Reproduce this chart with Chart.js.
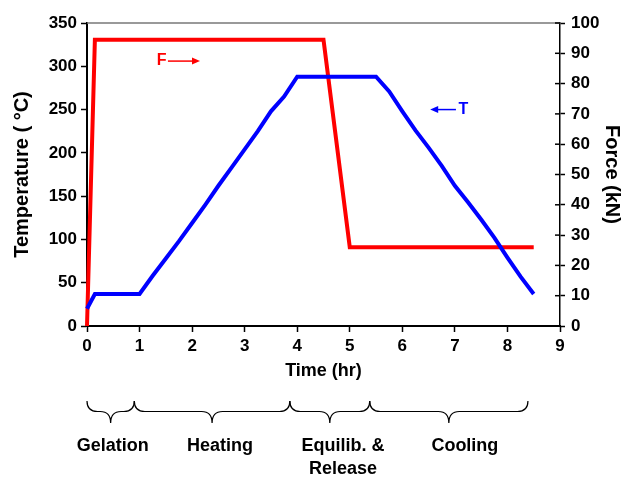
<!DOCTYPE html>
<html>
<head>
<meta charset="utf-8">
<script src="https://cdn.jsdelivr.net/npm/chart.js@4/dist/chart.umd.min.js"></script>
<style>
  body { margin: 0; background: #fff; }
  #wrap { position: relative; width: 624px; height: 478px; }
</style>
</head>
<body>
<div id="wrap"><canvas id="chart" width="624" height="478"></canvas></div>
<script>
// temperature (left axis)
const timeT = [0, 0.15, 1.0, 1.25, 1.5, 1.75, 2.0, 2.25, 2.5, 2.75, 3.0, 3.25, 3.5, 3.75, 4.0,
               5.5, 5.75, 6.0, 6.25, 6.5, 6.75, 7.0, 7.25, 7.5, 7.75, 8.0, 8.25, 8.5]
const tempT = [20, 37, 37, 58, 78, 98, 119, 140, 162, 183, 204, 225, 248, 265, 288,
               288, 271, 248, 226, 206, 185, 162, 143, 123, 102, 79, 57, 37]

// force (right axis)
const timeF = [0, 0.15, 4.5, 5.0, 8.5]
const forceF = [0, 94.5, 94.5, 26, 26]

// process phases under the time axis (hours)
const phaseNames = [["Gelation"], ["Heating"], ["Equilib. &", "Release"], ["Cooling"]]
const phaseStart = [0, 0.9, 3.86, 5.38]
const phaseEnd = [0.9, 3.86, 5.38, 8.39]
const phaseLabelAt = [0.49, 2.53, 4.87, 7.19]

const FONT = '"Liberation Sans", Arial, sans-serif'

function brace(ctx, x1, x2, y0, h) {
    const xm = (x1 + x2) / 2
    const r = h / 2
    ctx.beginPath()
    ctx.moveTo(x1, y0)
    ctx.quadraticCurveTo(x1, y0 + r, x1 + r, y0 + r)
    ctx.lineTo(xm - r, y0 + r)
    ctx.quadraticCurveTo(xm, y0 + r, xm, y0 + h * 1.05)
    ctx.moveTo(x2, y0)
    ctx.quadraticCurveTo(x2, y0 + r, x2 - r, y0 + r)
    ctx.lineTo(xm + r, y0 + r)
    ctx.quadraticCurveTo(xm, y0 + r, xm, y0 + h * 1.05)
    ctx.stroke()
}

function arrow(ctx, xa, xb, y, color) {
    // line from xa to xb, head at xb
    const dir = xb > xa ? 1 : -1
    ctx.strokeStyle = color
    ctx.fillStyle = color
    ctx.lineWidth = 1.5
    ctx.beginPath()
    ctx.moveTo(xa, y)
    ctx.lineTo(xb - dir * 6, y)
    ctx.stroke()
    ctx.beginPath()
    ctx.moveTo(xb, y)
    ctx.lineTo(xb - dir * 8, y - 3.5)
    ctx.lineTo(xb - dir * 8, y + 3.5)
    ctx.closePath()
    ctx.fill()
}

const extras = {
    id: "extras",
    afterDraw(chart) {
        const ctx = chart.ctx
        const x = chart.scales.x
        const y = chart.scales.y
        const y1 = chart.scales.y1
        const area = chart.chartArea
        ctx.save()

        // grey frame line on top
        ctx.strokeStyle = "#777"
        ctx.lineWidth = 1.5
        ctx.beginPath()
        ctx.moveTo(area.left, area.top)
        ctx.lineTo(area.right, area.top)
        ctx.stroke()

        // right axis ticks cross the axis line
        ctx.strokeStyle = "#000"
        ctx.lineWidth = 1.5
        y1.ticks.forEach(t => {
            const py = y1.getPixelForValue(t.value)
            ctx.beginPath()
            ctx.moveTo(area.right - 5, py)
            ctx.lineTo(area.right, py)
            ctx.stroke()
        })

        // series labels
        ctx.font = "bold 16px " + FONT
        ctx.textBaseline = "middle"
        ctx.textAlign = "center"
        ctx.fillStyle = "#ff0000"
        ctx.fillText("F", x.getPixelForValue(1.42), y.getPixelForValue(306))
        arrow(ctx, x.getPixelForValue(1.54), x.getPixelForValue(2.15), y.getPixelForValue(306), "#ff0000")
        ctx.fillStyle = "#0000ff"
        ctx.fillText("T", x.getPixelForValue(7.16), y.getPixelForValue(250))
        arrow(ctx, x.getPixelForValue(7.02), x.getPixelForValue(6.53), y.getPixelForValue(250), "#0000ff")

        // phase braces
        ctx.strokeStyle = "#000"
        ctx.lineWidth = 1.2
        for (let i = 0; i < phaseStart.length; i++) {
            brace(ctx, x.getPixelForValue(phaseStart[i]), x.getPixelForValue(phaseEnd[i]), 401, 21)
        }
        ctx.fillStyle = "#000"
        ctx.font = "bold 18px " + FONT
        phaseNames.forEach((lines, i) => {
            lines.forEach((t, j) => {
                ctx.fillText(t, x.getPixelForValue(phaseLabelAt[i]), 446 + j * 23)
            })
        })
        ctx.restore()
    }
}

const tickFont = { family: FONT, size: 17, weight: "bold" }
const titleFont = { family: FONT, size: 18, weight: "bold" }
const sideTitleFont = { family: FONT, size: 20, weight: "bold" }

new Chart(document.getElementById("chart").getContext("2d"), {
    type: "line",
    data: {
        datasets: [
            {
                label: "T",
                data: timeT.map((t, i) => ({ x: t, y: tempT[i] })),
                borderColor: "#0000ff",
                borderWidth: 4,
                pointRadius: 0,
                yAxisID: "y",
                clip: 6
            },
            {
                label: "F",
                data: timeF.map((t, i) => ({ x: t, y: forceF[i] })),
                borderColor: "#ff0000",
                borderWidth: 4,
                pointRadius: 0,
                yAxisID: "y1",
                clip: 6
            }
        ]
    },
    options: {
        responsive: false,
        animation: false,
        layout: { padding: { top: 23, bottom: 92, left: 0, right: 0 } },
        plugins: { legend: { display: false }, tooltip: { enabled: false } },
        scales: {
            x: {
                type: "linear",
                min: 0, max: 9,
                ticks: { stepSize: 1, color: "#000", font: tickFont, padding: 4 },
                grid: { drawOnChartArea: false, color: "#000", tickLength: 6, tickWidth: 1.5 },
                border: { color: "#000", width: 2 },
                title: { display: true, text: "Time (hr)", color: "#000", font: titleFont, padding: { top: 9 } },
                afterFit: s => { s.height = 60 }
            },
            y: {
                position: "left",
                min: 0, max: 350,
                ticks: { stepSize: 50, color: "#000", font: tickFont, padding: 4 },
                grid: { drawOnChartArea: false, color: "#000", tickLength: 6, tickWidth: 1.5 },
                border: { color: "#000", width: 2 },
                title: { display: true, text: "Temperature ( °C)", color: "#000", font: sideTitleFont, padding: { top: 10, bottom: 2 } },
                afterFit: s => { s.width = 87 }
            },
            y1: {
                position: "right",
                min: 0, max: 100,
                ticks: { stepSize: 10, color: "#000", font: tickFont, padding: 6 },
                grid: { drawOnChartArea: false, color: "#000", tickLength: 5, tickWidth: 1.5 },
                border: { color: "#000", width: 1.5 },
                title: { display: true, text: "Force (kN)", color: "#000", font: sideTitleFont, padding: { top: 0 } },
                afterFit: s => { s.width = 64 }
            }
        }
    },
    plugins: [extras]
})
</script>
</body>
</html>
